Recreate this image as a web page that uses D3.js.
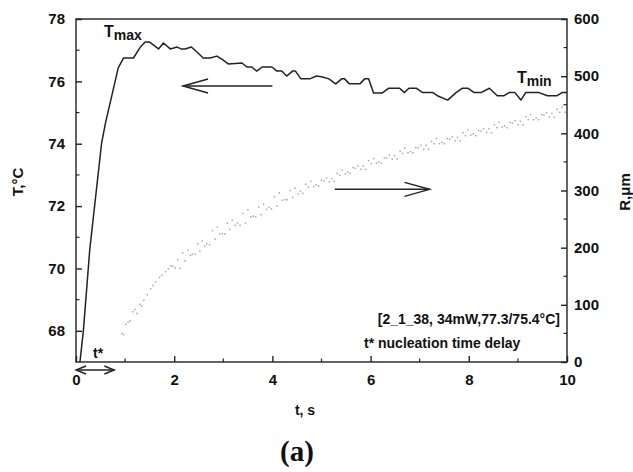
<!DOCTYPE html>
<html><head><meta charset="utf-8">
<script src="https://cdn.jsdelivr.net/npm/d3@7"></script>
<style>body{margin:0;background:#fff}svg{display:block}text{font-family:"Liberation Sans",Arial,sans-serif;font-weight:bold;fill:#111}</style>
</head><body><div id="chart"></div>
<script>
// Temperature series T(t)
const tempTime = [0.08,0.15,0.28,0.52,0.6,0.86,0.97,1.17,1.31,1.41,1.5,1.68,1.78,1.92,2.06,2.14,2.22,2.35,2.49,2.59,2.73,2.87,3.0,3.1,3.38,3.48,3.58,3.68,3.79,3.99,4.09,4.19,4.29,4.41,4.47,4.58,4.76,4.9,5.0,5.15,5.29,5.41,5.47,5.57,5.78,5.88,5.96,6.06,6.24,6.37,6.59,6.69,6.78,6.93,7.06,7.27,7.36,7.57,7.74,7.87,7.98,8.11,8.25,8.42,8.58,8.72,8.82,8.94,9.06,9.16,9.43,9.6,9.8,9.9,10.0];
const tempValue = [67.0,68.0,70.6,74.0,74.66,76.43,76.75,76.75,77.1,77.26,77.26,77.04,77.23,77.04,77.1,77.04,77.04,77.1,76.9,76.75,76.75,76.81,76.68,76.56,76.59,76.46,76.46,76.33,76.46,76.46,76.33,76.33,76.17,76.33,76.33,76.08,76.08,76.17,76.15,76.08,75.92,76.08,76.08,75.92,75.92,76.08,76.08,75.63,75.63,75.78,75.78,75.64,75.78,75.78,75.64,75.64,75.54,75.40,75.64,75.78,75.78,75.64,75.64,75.78,75.54,75.54,75.64,75.64,75.40,75.64,75.64,75.54,75.54,75.64,75.64];
// Radius scatter R(t)
const radiusTime = [0.93,0.97,1.02,1.06,1.10,1.16,1.20,1.24,1.30,1.34,1.38,1.45,1.52,1.57,1.62,1.70,1.75,1.82,1.88,1.93,1.97,2.02,2.07,2.12,2.17,2.22,2.28,2.33,2.37,2.43,2.48,2.52,2.57,2.62,2.66,2.72,2.78,2.83,2.88,2.93,2.98,3.03,3.08,3.13,3.18,3.24,3.29,3.34,3.40,3.45,3.50,3.56,3.61,3.66,3.72,3.77,3.82,3.88,3.93,3.98,4.04,4.09,4.14,4.20,4.25,4.30,4.36,4.41,4.46,4.52,4.57,4.62,4.68,4.73,4.78,4.84,4.89,4.94,5.00,5.05,5.10,5.16,5.21,5.26,5.32,5.37,5.42,5.48,5.53,5.58,5.64,5.69,5.74,5.80,5.85,5.90,5.96,6.01,6.06,6.12,6.17,6.22,6.28,6.33,6.38,6.44,6.49,6.54,6.60,6.65,6.70,6.76,6.81,6.86,6.92,6.97,7.02,7.08,7.13,7.18,7.24,7.29,7.34,7.40,7.45,7.50,7.56,7.61,7.66,7.72,7.77,7.82,7.88,7.93,7.98,8.04,8.09,8.14,8.20,8.25,8.30,8.36,8.41,8.46,8.52,8.57,8.62,8.68,8.73,8.78,8.84,8.89,8.94,9.00,9.05,9.10,9.16,9.21,9.26,9.32,9.37,9.42,9.48,9.53,9.58,9.64,9.69,9.74,9.80,9.85,9.90,9.96];
const radiusValue = [50,48,66,70,72,88,92,85,101,98,108,118,128,134,140,148,152,158,163,168,168,165,179,164,191,177,196,187,189,189,207,194,212,203,207,205,230,215,236,224,225,224,243,232,248,239,243,239,260,243,266,254,255,254,271,258,276,267,271,268,289,273,296,283,284,284,300,288,304,294,299,295,311,306,316,307,310,308,318,317,322,315,321,316,330,327,336,329,332,330,340,339,343,337,343,337,352,347,356,348,350,348,357,357,362,355,361,355,369,365,374,366,368,366,375,375,379,372,379,372,386,382,391,382,384,382,391,390,394,387,393,387,401,396,406,397,399,396,405,404,408,402,408,401,415,410,419,411,413,410,419,418,422,415,421,415,429,424,433,424,427,424,433,432,436,429,435,428,442,437,446,437];
const xTicks = [0,2,4,6,8,10];
const tTicks = [68,70,72,74,76,78];
const rTicks = [0,100,200,300,400,500,600];

const W = 633, H = 472;
const m = {l:76, r:567, t:19, b:362};
const svg = d3.select("#chart").append("svg").attr("width",W).attr("height",H);
const x = d3.scaleLinear().domain([0,10]).range([m.l,m.r]);
const yT = d3.scaleLinear().domain([67,78]).range([m.b,m.t]);
const yR = d3.scaleLinear().domain([0,600]).range([m.b,m.t]);

// scatter
svg.append("g").selectAll("rect").data(radiusTime.map((t,i)=>[t,radiusValue[i]]))
  .enter().append("rect").attr("x",d=>x(d[0])-0.7).attr("y",d=>yR(d[1])-0.7)
  .attr("width",1.5).attr("height",1.5).attr("fill","#a8a8a8");

// line
const line = d3.line().x((d,i)=>x(tempTime[i])).y(d=>yT(d));
svg.append("path").attr("d",line(tempValue)).attr("fill","none").attr("stroke","#222").attr("stroke-width",1.5).attr("stroke-linejoin","round");

// frame
svg.append("rect").attr("x",m.l).attr("y",m.t).attr("width",m.r-m.l).attr("height",m.b-m.t).attr("fill","none").attr("stroke","#222").attr("stroke-width",1.4);

// axes
const fs = "15px";
const bottom = d3.axisBottom(x).tickValues(xTicks).tickSize(-6).tickPadding(12).tickFormat(d3.format("d"));
const gb = svg.append("g").attr("transform",`translate(0,${m.b})`).call(bottom);
const left = d3.axisLeft(yT).tickValues(tTicks).tickSize(-6).tickPadding(11);
const gl = svg.append("g").attr("transform",`translate(${m.l},0)`).call(left);
const right = d3.axisRight(yR).tickValues(rTicks).tickSize(-6).tickPadding(7);
const gr = svg.append("g").attr("transform",`translate(${m.r},0)`).call(right);
[gb,gl,gr].forEach(g=>{g.select(".domain").remove();g.selectAll("line").attr("stroke","#222").attr("stroke-width",1.4);g.selectAll("text").attr("font-size",fs).attr("font-family","Liberation Sans, Arial").attr("font-weight","bold").attr("fill","#111");});
// minor ticks
const minorX = [1,3,5,7,9], minorT = [69,71,73,75,77], minorR=[50,150,250,350,450,550];
svg.append("g").selectAll("line").data(minorX).enter().append("line").attr("x1",d=>x(d)).attr("x2",d=>x(d)).attr("y1",m.b).attr("y2",m.b-3.5).attr("stroke","#222").attr("stroke-width",1.2);
svg.append("g").selectAll("line").data(minorT).enter().append("line").attr("y1",d=>yT(d)).attr("y2",d=>yT(d)).attr("x1",m.l).attr("x2",m.l+3.5).attr("stroke","#222").attr("stroke-width",1.2);
svg.append("g").selectAll("line").data(minorR).enter().append("line").attr("y1",d=>yR(d)).attr("y2",d=>yR(d)).attr("x1",m.r).attr("x2",m.r-3.5).attr("stroke","#222").attr("stroke-width",1.2);

// axis titles
svg.append("text").attr("transform","translate(23,182) rotate(-90)").attr("text-anchor","middle").attr("font-size","15px").text("T,°C");
svg.append("text").attr("transform","translate(630,192) rotate(-90)").attr("text-anchor","middle").attr("font-size","15px").text("R,μm");
svg.append("text").attr("x",305).attr("y",415).attr("text-anchor","middle").attr("font-size","14px").text("t, s");
svg.append("text").attr("x",297).attr("y",461).attr("text-anchor","middle").attr("font-size","29px").style("font-family","Liberation Serif, Times New Roman, serif").text("(a)");

// Tmax / Tmin labels
const tmax = svg.append("text").attr("x",104).attr("y",37).attr("font-size","16px");
tmax.append("tspan").text("T"); tmax.append("tspan").attr("dy",3).attr("font-size","14px").text("max");
const tmin = svg.append("text").attr("x",517).attr("y",83).attr("font-size","16px");
tmin.append("tspan").text("T"); tmin.append("tspan").attr("dy",3).attr("font-size","14px").text("min");

// arrows
function arrow(x1,y,x2,dir){
  svg.append("line").attr("x1",x1).attr("x2",x2).attr("y1",y).attr("y2",y).attr("stroke","#222").attr("stroke-width",1.5);
  const tip = dir<0? Math.min(x1,x2): Math.max(x1,x2);
  svg.append("path").attr("d",`M${tip-dir*25},${y-7}L${tip},${y}L${tip-dir*25},${y+7}`).attr("fill","none").attr("stroke","#222").attr("stroke-width",1.5);
}
arrow(x(2.18),yT(75.85),x(4.0),-1);
arrow(x(5.27),yR(302),x(7.2),1);

// t* double arrow
svg.append("text").attr("x",93).attr("y",358).attr("font-size","14px").text("t*");
const ya = 370;
svg.append("line").attr("x1",x(0)).attr("x2",x(0.78)).attr("y1",ya).attr("y2",ya).attr("stroke","#222").attr("stroke-width",1.4);
svg.append("path").attr("d",`M${x(0)+10},${ya-4}L${x(0)},${ya}L${x(0)+10},${ya+4}`).attr("fill","none").attr("stroke","#222").attr("stroke-width",1.4);
svg.append("path").attr("d",`M${x(0.78)-10},${ya-4}L${x(0.78)},${ya}L${x(0.78)-10},${ya+4}`).attr("fill","none").attr("stroke","#222").attr("stroke-width",1.4);

// annotations
svg.append("text").attr("x",560).attr("y",324).attr("text-anchor","end").attr("font-size","14px").text("[2_1_38, 34mW,77.3/75.4°C]");
svg.append("text").attr("x",364).attr("y",348).attr("font-size","14px").text("t* nucleation time delay");
</script></body></html>
